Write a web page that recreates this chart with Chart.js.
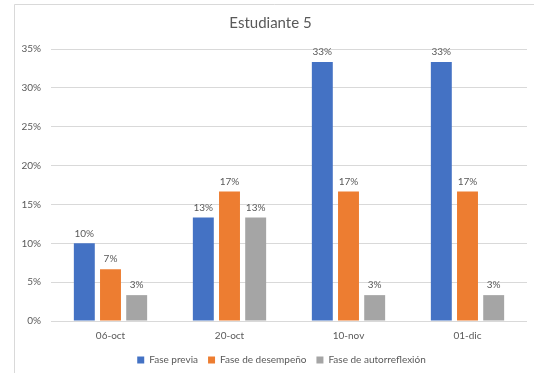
<!DOCTYPE html>
<html><head><meta charset="utf-8">
<script src="https://cdn.jsdelivr.net/npm/chart.js@4/dist/chart.umd.min.js"></script>
<style>html,body{margin:0;padding:0;background:#fff;}#wrap{width:534px;height:373px;position:relative;}</style>
</head><body><div id="wrap"><canvas id="c" width="534" height="373"></canvas></div>
<script>
const categories = ['06-oct', '20-oct', '10-nov', '01-dic'];
const fasePrevia = [10, 13.33, 33.33, 33.33];
const faseDesempeno = [6.67, 16.67, 16.67, 16.67];
const faseAutorreflexion = [3.33, 13.33, 3.33, 3.33];
const seriesNames = ['Fase previa', 'Fase de desempeño', 'Fase de autorreflexión'];
const yTicks = [0, 5, 10, 15, 20, 25, 30, 35];

const FONT = 'Lato, "Liberation Sans", sans-serif';
const TXT = '#595959';

const framePlugin = {
  id: 'frame',
  beforeDraw(chart) {
    const ctx = chart.ctx;
    ctx.save();
    ctx.fillStyle = '#fff';
    ctx.fillRect(0, 0, chart.width, chart.height);
    ctx.strokeStyle = '#d9d9d9';
    ctx.lineWidth = 1;
    ctx.beginPath();
    ctx.moveTo(14.5, chart.height + 2);
    ctx.lineTo(14.5, 4.5);
    ctx.lineTo(chart.width + 2, 4.5);
    ctx.stroke();
    ctx.restore();
  }
};

const legendShift = {
  id: 'legendShift',
  afterLayout(chart) {
    if (chart.legend) {
      chart.legend.left += 11; chart.legend.right += 11;
      chart.legend.top += 2; chart.legend.bottom += 2;
    }
  }
};

const labelPlugin = {
  id: 'vlabels',
  afterDatasetsDraw(chart) {
    const ctx = chart.ctx;
    ctx.save();
    ctx.font = '10px ' + FONT;
    ctx.fillStyle = TXT;
    ctx.textAlign = 'center';
    ctx.textBaseline = 'bottom';
    chart.data.datasets.forEach((ds, i) => {
      const meta = chart.getDatasetMeta(i);
      meta.data.forEach((bar, j) => {
        ctx.fillText(Math.round(ds.data[j]) + '%', bar.x, bar.y - 5);
      });
    });
    ctx.restore();
  }
};

new Chart(document.getElementById('c'), {
  type: 'bar',
  data: {
    labels: categories,
    datasets: [
      { label: seriesNames[0], data: fasePrevia, backgroundColor: '#4472C4' },
      { label: seriesNames[1], data: faseDesempeno, backgroundColor: '#ED7D31' },
      { label: seriesNames[2], data: faseAutorreflexion, backgroundColor: '#A5A5A5' }
    ]
  },
  options: {
    responsive: false,
    animation: false,
    devicePixelRatio: 1,
    layout: { padding: { top: 10, right: 7, bottom: 0, left: 14 } },
    datasets: { bar: { categoryPercentage: 0.66, barPercentage: 0.8, borderWidth: 0 } },
    plugins: {
      title: { display: true, text: 'Estudiante 5', color: TXT, font: { family: FONT, size: 15, weight: 'normal' }, padding: { top: 4, bottom: 17 } },
      legend: {
        position: 'bottom',
        labels: { color: TXT, font: { family: FONT, size: 10 }, boxWidth: 7, boxHeight: 7, padding: 10 }
      },
      tooltip: { enabled: false }
    },
    scales: {
      x: {
        afterFit(s) { s.height = 22; },
        grid: { display: false, drawTicks: false },
        border: { display: false },
        ticks: { color: TXT, font: { family: FONT, size: 10 }, padding: 9 }
      },
      y: {
        min: 0, max: 35,
        afterFit(s) { s.width = 37; },
        afterBuildTicks(s) { s.ticks = yTicks.map(v => ({ value: v })); },
        grid: { color: '#d9d9d9', drawTicks: false },
        border: { display: false },
        ticks: { color: TXT, font: { family: FONT, size: 10 }, padding: 10, callback: v => v + '%' }
      }
    }
  },
  plugins: [framePlugin, legendShift, labelPlugin]
});
</script></body></html>
